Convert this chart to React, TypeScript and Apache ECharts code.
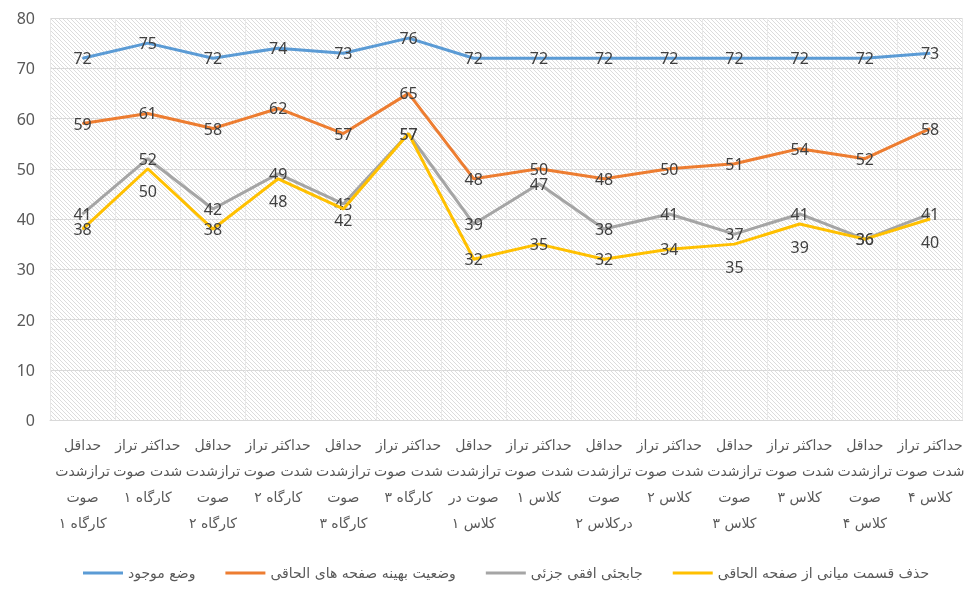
import React, { useEffect, useRef } from "react";
import * as echarts from "echarts";

const categories = [
  "حداقل\nترازشدت\nصوت\nکارگاه ۱",
  "حداکثر تراز\nشدت صوت\nکارگاه ۱",
  "حداقل\nترازشدت\nصوت\nکارگاه ۲",
  "حداکثر تراز\nشدت صوت\nکارگاه ۲",
  "حداقل\nترازشدت\nصوت\nکارگاه ۳",
  "حداکثر تراز\nشدت صوت\nکارگاه ۳",
  "حداقل\nترازشدت\nصوت در\nکلاس ۱",
  "حداکثر تراز\nشدت صوت\nکلاس ۱",
  "حداقل\nترازشدت\nصوت\nدرکلاس ۲",
  "حداکثر تراز\nشدت صوت\nکلاس ۲",
  "حداقل\nترازشدت\nصوت\nکلاس ۳",
  "حداکثر تراز\nشدت صوت\nکلاس ۳",
  "حداقل\nترازشدت\nصوت\nکلاس ۴",
  "حداکثر تراز\nشدت صوت\nکلاس ۴",
];

const seriesNames = [
  "وضع موجود",
  "وضعیت بهینه صفحه های الحاقی",
  "جابجئی افقی جزئی",
  "حذف قسمت میانی از صفحه الحاقی",
];

const current = [72, 75, 72, 74, 73, 76, 72, 72, 72, 72, 72, 72, 72, 73];
const optimal = [59, 61, 58, 62, 57, 65, 48, 50, 48, 50, 51, 54, 52, 58];
const horizontal = [41, 52, 42, 49, 43, 57, 39, 47, 38, 41, 37, 41, 36, 41];
const removeMiddle = [38, 50, 38, 48, 42, 57, 32, 35, 32, 34, 35, 39, 36, 40];

const colors = ["#5B9BD5", "#ED7D31", "#A5A5A5", "#FFC000"];

// indices of the yellow series whose label sits below the point
const yellowBelow = [1, 3, 4, 10, 11, 13];

function makeHatch(): HTMLCanvasElement {
  const c = document.createElement("canvas");
  c.width = 4;
  c.height = 4;
  const ctx = c.getContext("2d")!;
  ctx.fillStyle = "#ffffff";
  ctx.fillRect(0, 0, 4, 4);
  ctx.fillStyle = "#dcdcdc";
  for (let i = 0; i < 4; i++) ctx.fillRect(i, i, 1, 1);
  return c;
}

export default function App() {
  const ref = useRef<HTMLDivElement>(null);
  useEffect(() => {
    if (!ref.current) return;
    const chart = echarts.init(ref.current, null, { renderer: "svg" });
    const numFont = "'Noto Sans', 'DejaVu Sans', sans-serif";
    const arFont = "'DejaVu Sans', sans-serif";
    const datasets = [current, optimal, horizontal, removeMiddle];
    const series = datasets.map((d, si) => ({
      name: seriesNames[si],
      type: "line",
      data: d.map((v, i) =>
        si === 3 && yellowBelow.includes(i)
          ? { value: v, label: { position: "bottom", distance: i === 4 ? 3 : 14 } }
          : v
      ),
      symbol: "circle",
      symbolSize: 1,
      showSymbol: true,
      lineStyle: { color: colors[si], width: 3 },
      itemStyle: { color: colors[si] },
      label: {
        show: true,
        position: "inside",
        color: "#404040",
        fontSize: 16,
        fontFamily: numFont,
        textBorderWidth: 0,
      },
      z: 2 + si,
    }));
    chart.setOption({
      animation: false,
      grid: {
        left: 50,
        top: 18,
        bottom: 169,
        right: -11,
        show: true,
        borderWidth: 0,
        backgroundColor: { image: makeHatch(), repeat: "repeat" },
      },
      legend: {
        bottom: 4,
        left: 78,
        icon: "rect",
        itemWidth: 40,
        itemHeight: 3,
        itemGap: 30,
        textStyle: { color: "#595959", fontSize: 14, fontFamily: arFont },
        data: seriesNames,
      },
      xAxis: {
        type: "category",
        data: categories,
        boundaryGap: true,
        axisTick: { show: false },
        axisLine: { show: true, lineStyle: { color: "#d9d9d9" } },
        splitLine: { show: true, lineStyle: { color: "#e8e8e8", width: 1 } },
        axisLabel: {
          interval: 0,
          color: "#595959",
          fontSize: 14,
          lineHeight: 26,
          margin: 12,
          fontFamily: arFont,
          align: "center",
        },
      },
      yAxis: {
        type: "value",
        min: 0,
        max: 80,
        interval: 10,
        axisLine: { show: false },
        axisTick: { show: false },
        splitLine: { lineStyle: { color: "#d9d9d9" } },
        axisLabel: {
          color: "#595959",
          fontSize: 16,
          margin: 15,
          fontFamily: numFont,
        },
      },
      series,
    });
    return () => chart.dispose();
  }, []);
  return (
    <div
      ref={ref}
      style={{ position: "fixed", left: 0, top: 0, width: 967, height: 589 }}
    />
  );
}
